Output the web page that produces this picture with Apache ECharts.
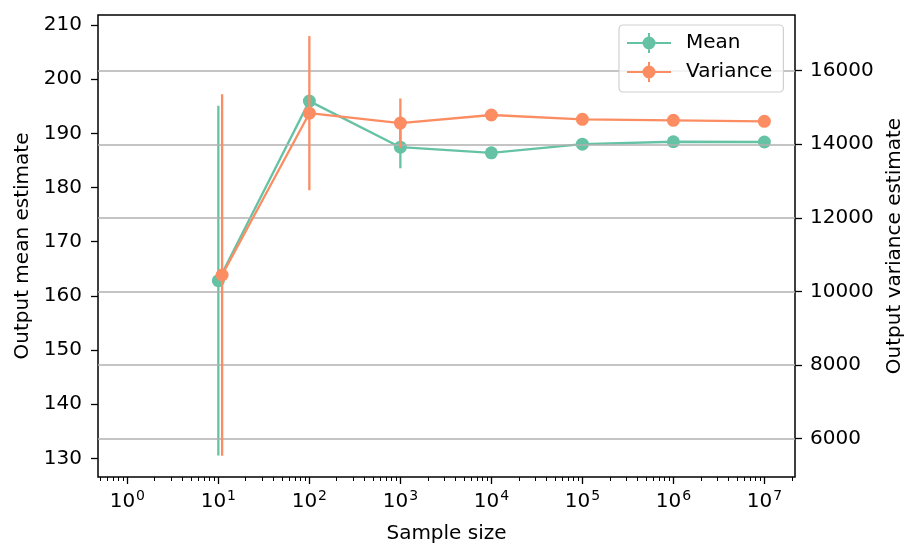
<!DOCTYPE html>
<html>
<head>
<meta charset="utf-8">
<script src="https://cdn.jsdelivr.net/npm/echarts@6/dist/echarts.min.js"></script>
<style>
html,body{margin:0;padding:0;background:#fff;}
#chart{width:919px;height:560px;}
</style>
</head>
<body>
<div id="chart"></div>
<script>
// ---- data ----
var meanSizes = [10, 100, 1000, 10000, 100000, 1000000, 10000000];
var meanValues = [162.8, 195.95, 187.45, 186.4, 188.0, 188.45, 188.4];
var meanErrors = [32.3, 1.0, 3.9, 0.5, 0.25, 0.15, 0.1];

var varSizes = [11, 100, 1000, 10000, 100000, 1000000, 10000000];
var varValues = [10448, 14845, 14575, 14796, 14679, 14652, 14625];
var varErrors = [4910, 2095, 670, 120, 50, 25, 15];

var xMajorTicks = [1, 10, 100, 1000, 10000, 100000, 1000000, 10000000];
var meanTicks = [130, 140, 150, 160, 170, 180, 190, 200, 210];
var varTicks = [6000, 8000, 10000, 12000, 14000, 16000];

var GREEN = '#66c2a5', ORANGE = '#fc8d62';
var FONT = 'DejaVu Sans';
var FS = 20;

var xMinorTicks = [];
for (var e = -1; e <= 7; e++) {
  for (var m = 2; m <= 9; m++) xMinorTicks.push(m * Math.pow(10, e));
}

function pairs(xs, ys) { return xs.map(function (x, i) { return [x, ys[i]]; }); }
function errData(xs, ys, es) { return xs.map(function (x, i) { return [x, ys[i] - es[i], ys[i] + es[i]]; }); }

function errRender(color) {
  return function (params, api) {
    var p1 = api.coord([api.value(0), api.value(1)]);
    var p2 = api.coord([api.value(0), api.value(2)]);
    return {
      type: 'line',
      shape: { x1: p1[0], y1: p1[1], x2: p2[0], y2: p2[1] },
      style: { stroke: color, lineWidth: 2.3 }
    };
  };
}

var legendIcon = 'path://M0,9 L44,9 L44,11 L0,11 Z M21,0 L23,0 L23,20 L21,20 Z M28.5,10 A6.5,6.5 0 1,1 15.5,10 A6.5,6.5 0 1,1 28.5,10 Z';

var xMin = 0.476, xMax = 2.17e7;

var option = {
  animation: false,
  backgroundColor: '#fff',
  textStyle: { fontFamily: FONT },
  grid: { left: 98, right: 124, top: 15, bottom: 83, show: true, borderColor: '#000', borderWidth: 1.5, containLabel: false },
  legend: {
    left: 619, top: 25,
    orient: 'vertical',
    padding: [8, 11, 10, 8],
    itemWidth: 44, itemHeight: 20, itemGap: 9,
    backgroundColor: 'rgba(255,255,255,0.8)',
    borderColor: '#d0d0d0', borderWidth: 1.2, borderRadius: 4,
    textStyle: { fontFamily: FONT, fontSize: FS, color: '#000', padding: [0, 0, 0, 10] },
    data: [
      { name: 'Mean', icon: legendIcon, itemStyle: { color: GREEN } },
      { name: 'Variance', icon: legendIcon, itemStyle: { color: ORANGE } }
    ]
  },
  xAxis: [{
    type: 'log', logBase: 10, min: xMin, max: xMax,
    name: 'Sample size', nameLocation: 'middle', nameGap: 47,
    nameTextStyle: { fontFamily: FONT, fontSize: FS, color: '#000' },
    axisLine: { show: false },
    splitLine: { show: false },
    axisTick: { show: true, customValues: xMajorTicks, length: 7, lineStyle: { color: '#000', width: 1.3 } },
    axisLabel: {
      customValues: xMajorTicks, margin: 9,
      fontFamily: FONT, fontSize: FS, color: '#000',
      formatter: function (v) { var n = Math.round(Math.log10(v)); return '{b|10}{s|' + n + '}'; },
      rich: {
        b: { fontFamily: FONT, fontSize: FS, color: '#000', verticalAlign: 'bottom', lineHeight: 26 },
        s: { fontFamily: FONT, fontSize: 14, color: '#000', verticalAlign: 'bottom', lineHeight: 26, padding: [0, 0, 9, 1] }
      }
    }
  }, {
    type: 'log', logBase: 10, min: xMin, max: xMax, gridIndex: 0, position: 'bottom',
    axisLine: { show: false }, splitLine: { show: false },
    axisLabel: { show: false },
    axisTick: { show: true, customValues: xMinorTicks, length: 4, lineStyle: { color: '#000', width: 1 } }
  }],
  yAxis: [{
    type: 'value', min: 126.55, max: 211.85, position: 'left',
    name: 'Output mean estimate', nameLocation: 'middle', nameGap: 65, nameRotate: 90,
    nameTextStyle: { fontFamily: FONT, fontSize: FS, color: '#000' },
    axisLine: { show: false }, splitLine: { show: false },
    axisTick: { show: true, customValues: meanTicks, length: 7, lineStyle: { color: '#000', width: 1.3 } },
    axisLabel: { customValues: meanTicks, margin: 16, fontFamily: FONT, fontSize: FS, color: '#000' }
  }, {
    type: 'value', min: 4959, max: 17513, position: 'right', z: 3,
    name: 'Output variance estimate', nameLocation: 'middle', nameGap: 88, nameRotate: 90,
    nameTextStyle: { fontFamily: FONT, fontSize: FS, color: '#000' },
    axisLine: { show: false },
    splitLine: { show: true, lineStyle: { color: '#b0b0b0', width: 1.5 } },
    axisTick: { show: true, customValues: varTicks, length: 7, lineStyle: { color: '#000', width: 1.3 } },
    axisLabel: { customValues: varTicks, margin: 15, fontFamily: FONT, fontSize: FS, color: '#000',
      formatter: function (v) { return String(v); } }
  }],
  series: [{
    name: 'Mean', type: 'line', xAxisIndex: 0, yAxisIndex: 0, z: 1,
    data: pairs(meanSizes, meanValues),
    symbol: 'circle', symbolSize: 13,
    lineStyle: { color: GREEN, width: 2.3 }, itemStyle: { color: GREEN }
  }, {
    name: 'Mean', type: 'custom', xAxisIndex: 0, yAxisIndex: 0, z: 1,
    data: errData(meanSizes, meanValues, meanErrors),
    renderItem: errRender(GREEN), encode: { x: 0, y: [1, 2] }
  }, {
    name: 'Variance', type: 'line', xAxisIndex: 0, yAxisIndex: 1, z: 5,
    data: pairs(varSizes, varValues),
    symbol: 'circle', symbolSize: 13,
    lineStyle: { color: ORANGE, width: 2.3 }, itemStyle: { color: ORANGE }
  }, {
    name: 'Variance', type: 'custom', xAxisIndex: 0, yAxisIndex: 1, z: 5,
    data: errData(varSizes, varValues, varErrors),
    renderItem: errRender(ORANGE), encode: { x: 0, y: [1, 2] }
  }]
};

var chart = echarts.init(document.getElementById('chart'), null, { renderer: 'canvas' });
chart.setOption(option);
</script>
</body>
</html>
